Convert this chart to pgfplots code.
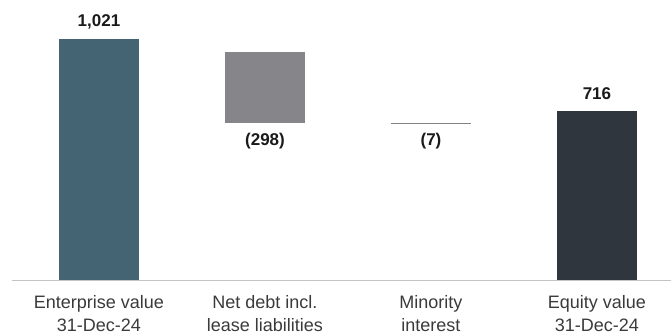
\documentclass[border=0pt]{standalone}
\usepackage{pgfplots}
\pgfplotsset{compat=1.18}
\usepackage{fontspec}
\setmainfont{Liberation Sans}
\definecolor{evcol}{HTML}{446373}
\definecolor{ndcol}{HTML}{868589}
\definecolor{micol}{HTML}{838388}
\definecolor{eqcol}{HTML}{2F363E}
\definecolor{axiscol}{HTML}{C4C4C4}
\definecolor{tickcol}{HTML}{3A3A3A}
\definecolor{labcol}{HTML}{1A1A1A}
\begin{document}
\begin{tikzpicture}
\pgfplotsset{common/.style={scale only axis, width=659pt, height=280pt,
  xmin=-0.524, xmax=3.446, ymin=0, ymax=1186, enlargelimits=false, clip=false}}
\begin{axis}[common, name=ax, ybar stacked, bar width=80pt,
  axis x line*=bottom, axis y line=none,
  x axis line style={draw=axiscol, line width=1pt},
  xtick={0,1,2,3},
  xticklabels={{Enterprise value\\31-Dec-24},{Net debt incl.\\lease liabilities},{Minority\\interest},{Equity value\\31-Dec-24}},
  major tick length=0pt, ytick=\empty,
  xticklabel style={align=center, anchor=north, inner sep=0pt, yshift=-15pt,
    font=\fontsize{18}{23}\selectfont, text=tickcol}]
\addplot[draw=none, fill=none] coordinates {(0,0) (1,666) (2,659) (3,0)};
\addplot[draw=none, fill=evcol] coordinates {(0,1021) (1,0) (2,0) (3,0)};
\addplot[draw=none, fill=ndcol] coordinates {(0,0) (1,298) (2,0) (3,0)};
\addplot[draw=none, fill=micol] coordinates {(0,0) (1,0) (2,7) (3,0)};
\addplot[draw=none, fill=eqcol] coordinates {(0,0) (1,0) (2,0) (3,716)};
\end{axis}
\begin{axis}[common, hide axis]
\addplot[only marks, mark=none, nodes near coords, point meta=explicit symbolic,
  nodes near coords style={anchor=center, font=\bfseries\fontsize{17}{20}\selectfont, text=labcol, inner sep=0pt}]
  table[meta=lab] {
x y lab
0 1095 1,021
1 587 (298)
2 587 (7)
3 790 716
};
\end{axis}
\pgfresetboundingbox
\path ([xshift=-12pt,yshift=-55pt]ax.south west) rectangle (ax.north east);
\end{tikzpicture}
\end{document}
